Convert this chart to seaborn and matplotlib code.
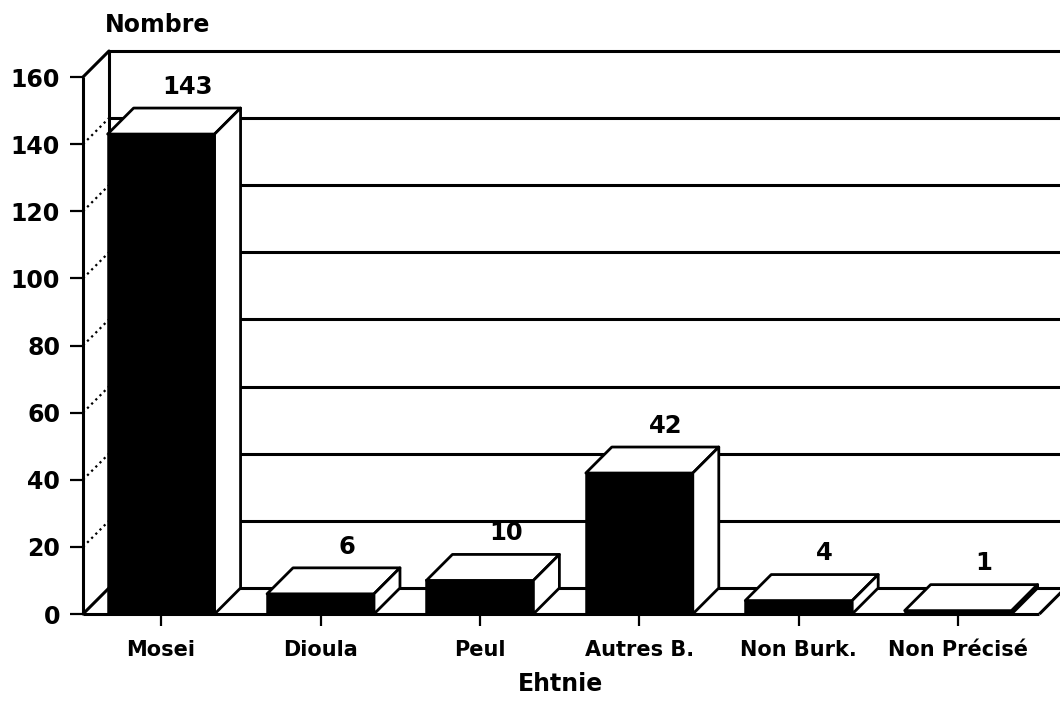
import numpy as np
import pandas as pd
import matplotlib
matplotlib.use("Agg")
import matplotlib.pyplot as plt
from matplotlib.patches import Polygon
import seaborn as sns

# Effectifs par ethnie
categories = ["Mosei", "Dioula", "Peul", "Autres B.", "Non Burk.", "Non Précisé"]
counts = [143, 6, 10, 42, 4, 1]
y_ticks = [0, 20, 40, 60, 80, 100, 120, 140, 160]

sns.set_style("white")
plt.rcParams["font.family"] = ["DejaVu Sans"]
plt.rcParams["font.weight"] = "bold"
plt.rcParams["text.color"] = "black"
plt.rcParams["axes.labelcolor"] = "black"
plt.rcParams["xtick.color"] = "black"
plt.rcParams["ytick.color"] = "black"

fig = plt.figure(figsize=(10.6, 7.05), dpi=100)
ax = fig.add_axes([83 / 1060, 91 / 705, 977 / 1060, 563 / 705])

# depth of the pseudo-3D box (data units)
DX = 0.163
DY = 7.75
XMIN, XMAX = -0.49, 5.639
YTOP = y_ticks[-1]
LW = 2.2

df = pd.DataFrame({"Ethnie": categories, "Nombre": counts})
sns.barplot(data=df, x="Ethnie", y="Nombre", order=categories, color="black",
            saturation=1, width=0.671, edgecolor="black", linewidth=1.8,
            ax=ax, zorder=4)

ax.set_xlim(XMIN, XMAX)
ax.set_ylim(0, YTOP + DY)
for s in ax.spines.values():
    s.set_visible(False)

line_kw = dict(color="black", lw=LW, clip_on=False, solid_capstyle="butt")

# back wall: horizontal grid lines and floor back edge
for yv in y_ticks:
    ax.plot([XMIN + DX, XMAX], [yv + DY, yv + DY], zorder=1, **line_kw)
# left wall
ax.plot([XMIN + DX, XMIN + DX], [DY, YTOP + DY], zorder=1, **line_kw)
ax.plot([XMIN, XMIN], [0, YTOP], zorder=2, **line_kw)
for yv in y_ticks:
    style = "-" if yv in (y_ticks[0], y_ticks[-1]) else ":"
    ax.plot([XMIN, XMIN + DX], [yv, yv + DY], zorder=1, color="black",
            lw=1.6 if style == ":" else LW, ls=style, clip_on=False)
# floor front and right edges
FLOOR_END = 5.51
ax.plot([XMIN, FLOOR_END], [0, 0], zorder=2, **line_kw)
ax.plot([FLOOR_END, FLOOR_END + DX], [0, DY], zorder=2, **line_kw)

# top and side faces of every bar
for p, v in zip(ax.patches, counts):
    x0, w, h = p.get_x(), p.get_width(), p.get_height()
    x1 = x0 + w
    top = Polygon([(x0, h), (x1, h), (x1 + DX, h + DY), (x0 + DX, h + DY)],
                  closed=True, facecolor="white", edgecolor="black",
                  lw=2.0, zorder=4, joinstyle="round")
    side = Polygon([(x1, 0), (x1 + DX, DY), (x1 + DX, h + DY), (x1, h)],
                   closed=True, facecolor="white", edgecolor="black",
                   lw=2.0, zorder=4, joinstyle="round")
    ax.add_patch(top)
    ax.add_patch(side)
    ax.text(x0 + w / 2 + DX, h + DY + 6.3, f"{v}", ha="center", va="center",
            fontsize=17.5, fontweight="bold", zorder=5)

ax.set_yticks(y_ticks)
ax.set_yticklabels([str(t) for t in y_ticks], fontsize=17, fontweight="bold")
ax.tick_params(axis="y", left=True, length=9.5, width=1.6, pad=7)
ax.set_xticks(range(len(categories)))
ax.set_xticklabels(categories, fontsize=15, fontweight="bold")
ax.tick_params(axis="x", bottom=True, length=8.5, width=1.6, pad=10)

ax.set_xlabel("Ehtnie", fontsize=17, fontweight="bold")
ax.xaxis.set_label_coords((560 - 83) / 977, (614 - 684) / 563)
ax.xaxis.label.set_va("center")
ax.set_ylabel("Nombre", fontsize=17, fontweight="bold", rotation=0)
ax.yaxis.set_label_coords((158 - 83) / 977, (614 - 25) / 563)
ax.yaxis.label.set_va("center")
ax.yaxis.label.set_ha("center")

fig.savefig("out.png", dpi=100)
